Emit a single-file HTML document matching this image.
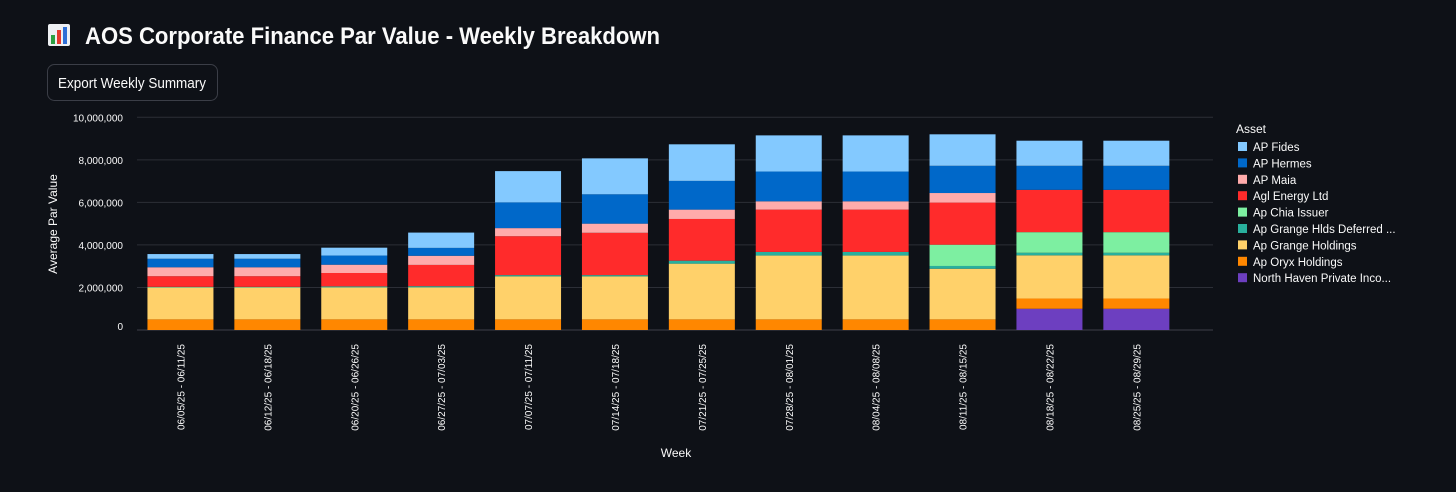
<!DOCTYPE html>
<html><head><meta charset="utf-8"><style>
html,body{margin:0;padding:0;background:#0e1117;}
svg{display:block;font-family:"Liberation Sans",sans-serif;}
</style></head><body>
<svg id="chart" width="1456" height="492" xmlns="http://www.w3.org/2000/svg">
<rect width="1456" height="492" fill="#0e1117"/>
<g>
<rect x="48" y="24" width="22" height="22" rx="2" fill="#eef0f3"/>
<rect x="51" y="35" width="4" height="9" fill="#2ea043"/>
<rect x="57" y="30" width="4" height="14" fill="#e5392f"/>
<rect x="63" y="27" width="4" height="17" fill="#2f6fd6"/>
</g>
<text x="85" y="44" font-size="24" font-weight="bold" fill="#fafafa" textLength="575" lengthAdjust="spacingAndGlyphs">AOS Corporate Finance Par Value - Weekly Breakdown</text>
<g>
<rect x="47.5" y="64.5" width="170" height="36" rx="7" fill="#0e1117" stroke="#3b3e47"/>
<text x="132" y="88" font-size="14.5" fill="#fafafa" text-anchor="middle" textLength="148" lengthAdjust="spacingAndGlyphs">Export Weekly Summary</text>
</g>
<g id="grid"></g>
<g id="yticks"></g>
<g id="bars"></g>
<g id="xticks"></g>
<text transform="translate(57,224) rotate(-90)" font-size="12" fill="#fafafa" text-anchor="middle">Average Par Value</text>
<text x="676" y="457" font-size="12" fill="#fafafa" text-anchor="middle">Week</text>
<text x="1236" y="133" font-size="12" fill="#fafafa">Asset</text>
<g id="legend"></g>
</svg>
<script>
const weeks = ["06/05/25 - 06/11/25","06/12/25 - 06/18/25","06/20/25 - 06/26/25","06/27/25 - 07/03/25","07/07/25 - 07/11/25","07/14/25 - 07/18/25","07/21/25 - 07/25/25","07/28/25 - 08/01/25","08/04/25 - 08/08/25","08/11/25 - 08/15/25","08/18/25 - 08/22/25","08/25/25 - 08/29/25"];
const seriesNames = ["North Haven Private Inco...","Ap Oryx Holdings","Ap Grange Holdings","Ap Grange Hlds Deferred ...","Ap Chia Issuer","Agl Energy Ltd","AP Maia","AP Hermes","AP Fides"];
const northHaven = [0,0,0,0,0,0,0,0,0,0,1.0,1.0];
const oryx = [0.5,0.5,0.5,0.5,0.5,0.5,0.5,0.5,0.5,0.5,0.48,0.48];
const grange = [1.5,1.5,1.5,1.5,2.02,2.02,2.62,3.0,3.0,2.38,2.03,2.03];
const grangeDeferred = [0.03,0.03,0.05,0.06,0.06,0.06,0.14,0.17,0.17,0.13,0.12,0.12];
const chia = [0,0,0,0,0,0,0,0,0,1.0,0.97,0.97];
const agl = [0.5,0.5,0.63,1.0,1.83,1.99,1.96,1.99,1.99,1.98,1.99,1.99];
const maia = [0.42,0.42,0.39,0.43,0.38,0.43,0.44,0.39,0.39,0.45,0,0];
const hermes = [0.4,0.4,0.43,0.37,1.21,1.38,1.35,1.4,1.4,1.28,1.13,1.13];
const fides = [0.22,0.22,0.37,0.72,1.47,1.69,1.72,1.7,1.7,1.48,1.18,1.18];
const yTicks = [0,2000000,4000000,6000000,8000000,10000000];
const colors = ["#6d3fc0","#ff8700","#ffd16a","#29b09d","#7defa1","#ff2b2b","#ffabab","#0068c9","#83c9ff"];
const series = [northHaven,oryx,grange,grangeDeferred,chia,agl,maia,hermes,fides];
const NS="http://www.w3.org/2000/svg";
const plotL=137,plotR=1213,y0=330,y1=117.3,step=86.9,barW=66;
function y(v){return y0-(v/10000000)*(y0-y1);}
function xc(i){return plotL+step*(i+0.5);}
function mk(t,a,p){const e=document.createElementNS(NS,t);for(const k in a)e.setAttribute(k,a[k]);p.appendChild(e);return e;}
const grid=document.getElementById('grid'),yt=document.getElementById('yticks');
yTicks.forEach(v=>{
  const l=mk('line',{x1:plotL,x2:plotR,y1:y(v),y2:y(v),stroke:v===0?'#3d4049':'#2c2f37','stroke-width':1},grid);
  
  
  const t=mk('text',{x:123,y:v===0?y(v):y(v)+4,'font-size':10,fill:'#fafafa','text-anchor':'end'},yt);
  t.textContent=v.toLocaleString('en-US');
  
  
});
const bars=document.getElementById('bars'),xt=document.getElementById('xticks');
weeks.forEach((w,i)=>{
  let cum=0;
  series.forEach((s,k)=>{
    const v=s[i]*1000000; if(v<=0)return;
    const r=mk('rect',{x:xc(i)-barW/2,y:y(cum+v),width:barW,height:y(cum)-y(cum+v),fill:colors[k]},bars);
    
    
    cum+=v;
  });
  const t=mk('text',{transform:`translate(${xc(i)+4},344) rotate(-90)`,'font-size':10,fill:'#fafafa','text-anchor':'end'},xt);
  t.textContent=w;
  
  
});
const lg=document.getElementById('legend');
for(let k=seriesNames.length-1,j=0;k>=0;k--,j++){
  const yy=147+j*16.4;
  const s=mk('rect',{x:1238,y:yy-5,width:9,height:9,fill:colors[k]},lg);
  
  
  const t=mk('text',{x:1253,y:yy+4,'font-size':11.5,fill:'#fafafa'},lg);
  t.textContent=seriesNames[k];
  
  
}
</script>
</body></html>
